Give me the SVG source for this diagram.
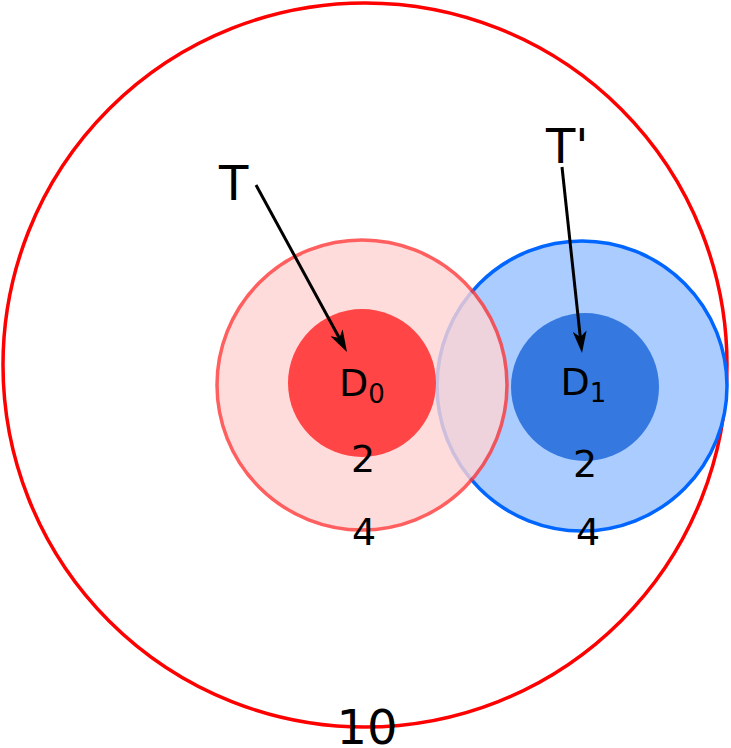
<svg xmlns="http://www.w3.org/2000/svg" width="731" height="748" viewBox="0 0 731 748">
<defs>
<marker id="ah" markerUnits="userSpaceOnUse" viewBox="0 0 22 14" markerWidth="22" markerHeight="14" refX="8" refY="7" orient="auto">
<path d="M0,0 L22,7 L0,14 L6,7 Z" fill="#000"/>
</marker>
<style>
text{font-family:"DejaVu Sans","Liberation Sans",sans-serif;fill:#000}
.lbl{font-size:38px}
.num{font-size:38px;text-anchor:middle}
.big{font-size:48px}
.arrow{stroke:#000;stroke-width:3;fill:none;marker-end:url(#ah)}
</style>
</defs>
<rect width="731" height="748" fill="#fff"/>
<g id="outer">
<circle cx="365" cy="365" r="362" fill="none" stroke="#ff0000" stroke-width="3.5"/>
<text class="big" x="367" y="744" text-anchor="middle">10</text>
</g>
<g id="blue">
<circle cx="582" cy="386" r="145" fill="#aaccff" stroke="#0066ff" stroke-width="3.5"/>
<circle cx="585" cy="387" r="74" fill="#3579e0"/>
<text class="lbl" x="560.5" y="395">D<tspan font-size="26" dy="7">1</tspan></text>
<text class="num" x="585" y="477">2</text>
<text class="num" x="588" y="545">4</text>
</g>
<g id="red">
<g opacity="0.8">
<circle cx="362" cy="385" r="145" fill="#ffd4d4" stroke="#ff3838" stroke-width="3.5"/>
</g>
<circle cx="362" cy="383" r="74" fill="#ff4545"/>
<text class="lbl" x="339" y="396">D<tspan font-size="26" dy="7">0</tspan></text>
<text class="num" x="363" y="472">2</text>
<text class="num" x="364" y="545">4</text>
</g>
<g id="T">
<text class="big" x="219" y="200">T</text>
</g>
<g id="Tp">
<text class="big" x="546" y="163">T'</text>
</g>
<g id="connectors">
<line class="arrow" x1="256" y1="185" x2="340.3" y2="339.7"/>
<line class="arrow" x1="562" y1="167" x2="580.5" y2="339.1"/>
</g>
</svg>
